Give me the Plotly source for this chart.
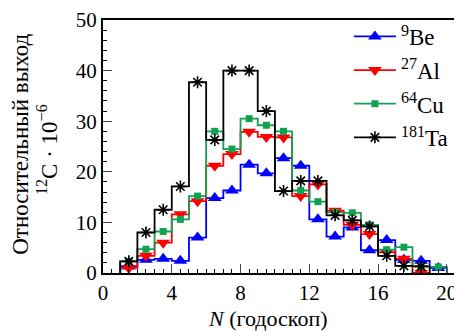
import plotly.graph_objects as go

# bin index N (bins [N, N+1])
bins_start = 1
be = [1.3, 2.6, 2.8, 2.4, 7.0, 14.8, 16.3, 21.4, 19.7, 22.7, 21.2, 10.6, 7.2, 9.0, 4.5, 6.5, 2.6, 2.4, 1.0]
al = [1.0, 3.4, 6.0, 11.6, 14.2, 21.2, 23.5, 27.9, 26.9, 26.8, 15.2, 17.5, 12.3, 9.5, 7.7, 4.1, 2.8, 0.0]
cu = [2.3, 4.7, 8.2, 10.6, 15.2, 28.0, 24.5, 30.5, 29.2, 28.0, 16.3, 14.1, 12.0, 11.9, 9.5, 4.6, 5.1, 1.3, 1.2]
ta = [2.3, 8.0, 12.5, 17.1, 37.7, 26.3, 40.0, 40.0, 32.0, 16.2, 18.2, 18.2, 11.4, 10.4, 9.2, 3.4, 1.4, 1.3]

names = ["<sup>9</sup>Be", "<sup>27</sup>Al", "<sup>64</sup>Cu", "<sup>181</sup>Ta"]
series = [be, al, cu, ta]
colors = ["#0000ff", "#ff0000", "#12a150", "#000000"]
symbols = ["triangle-up", "triangle-down", "square", "asterisk-open"]
msizes = [12, 12, 7, 10]
y_ticks = [0, 10, 20, 30, 40, 50]
x_ticks = [0, 4, 8, 12, 16, 20]

FONT = "Liberation Serif"
fig = go.Figure()
legend_ids = ["legend", "legend2", "legend3", "legend4"]

for vals, name, col, sym, ms, lid in zip(series, names, colors, symbols, msizes, legend_ids):
    n = len(vals)
    xs = [bins_start] + [bins_start + i for i in range(n)] + [bins_start + n]
    ys = [0] + vals + [0]
    fig.add_trace(go.Scatter(x=xs, y=ys, mode="lines", line=dict(color=col, width=1.8, shape="hv"),
                             showlegend=False, hoverinfo="skip"))
    centers = [bins_start + i + 0.5 for i in range(n)]
    mk = dict(symbol=sym, size=ms, color=col)
    if sym == "asterisk-open":
        mk["line"] = dict(color=col, width=1.6)
    fig.add_trace(go.Scatter(x=centers, y=vals, mode="markers", marker=mk, showlegend=False))
    # legend entry
    fig.add_trace(go.Scatter(x=[None], y=[None], mode="lines+markers", name=name,
                             line=dict(color=col, width=1.8), marker=mk, legend=lid))

leg_rows = [0.935, 0.802, 0.669, 0.536]
legs = {}
for lid, ly in zip(legend_ids, leg_rows):
    legs[lid] = dict(x=0.685, y=ly, xanchor="left", yanchor="middle", bgcolor="rgba(0,0,0,0)",
                     font=dict(family=FONT, size=23, color="black"), itemwidth=42)

# page body has an 8px margin: figure is sized so that it ends at the window edge
fig.update_layout(
    width=454, height=323,
    margin=dict(l=95, r=0, t=9, b=58),
    plot_bgcolor="white", paper_bgcolor="white",
    font=dict(family=FONT, size=20, color="black"),
    **legs,
)
fig.update_xaxes(range=[0, 20.88], tickvals=x_ticks, ticks="inside", ticklen=9, tickwidth=1.3,
                 showline=True, linecolor="black", linewidth=2, mirror=True, showgrid=False,
                 zeroline=False, tickfont=dict(size=21, family=FONT), ticklabeloverflow="allow",
                 minor=dict(dtick=0.5, ticks="inside", ticklen=4, tickwidth=1, tickcolor="black"))
fig.update_yaxes(range=[0, 50], tickvals=y_ticks, ticks="inside", ticklen=9, tickwidth=1.3,
                 showline=True, linecolor="black", linewidth=2, showgrid=False, zeroline=False,
                 tickfont=dict(size=21, family=FONT), ticklabeloverflow="allow",
                 minor=dict(dtick=2, ticks="inside", ticklen=4, tickwidth=1, tickcolor="black"))

fig.add_annotation(text="Относительный выход", textangle=-90, xref="paper", yref="paper",
                   x=-0.229, y=0.51, showarrow=False, xanchor="center", yanchor="middle",
                   font=dict(family=FONT, size=23))
fig.add_annotation(text="<sup>12</sup>C · 10<sup>−6</sup>", textangle=-90, xref="paper", yref="paper",
                   x=-0.156, y=0.49, showarrow=False, xanchor="center", yanchor="middle",
                   font=dict(family=FONT, size=23))
fig.add_annotation(text="<i>N</i> (годоскоп)", xref="x", yref="paper", x=9.6, y=-0.178,
                   showarrow=False, xanchor="center", yanchor="middle", font=dict(family=FONT, size=22))

fig.write_html("out.html")
